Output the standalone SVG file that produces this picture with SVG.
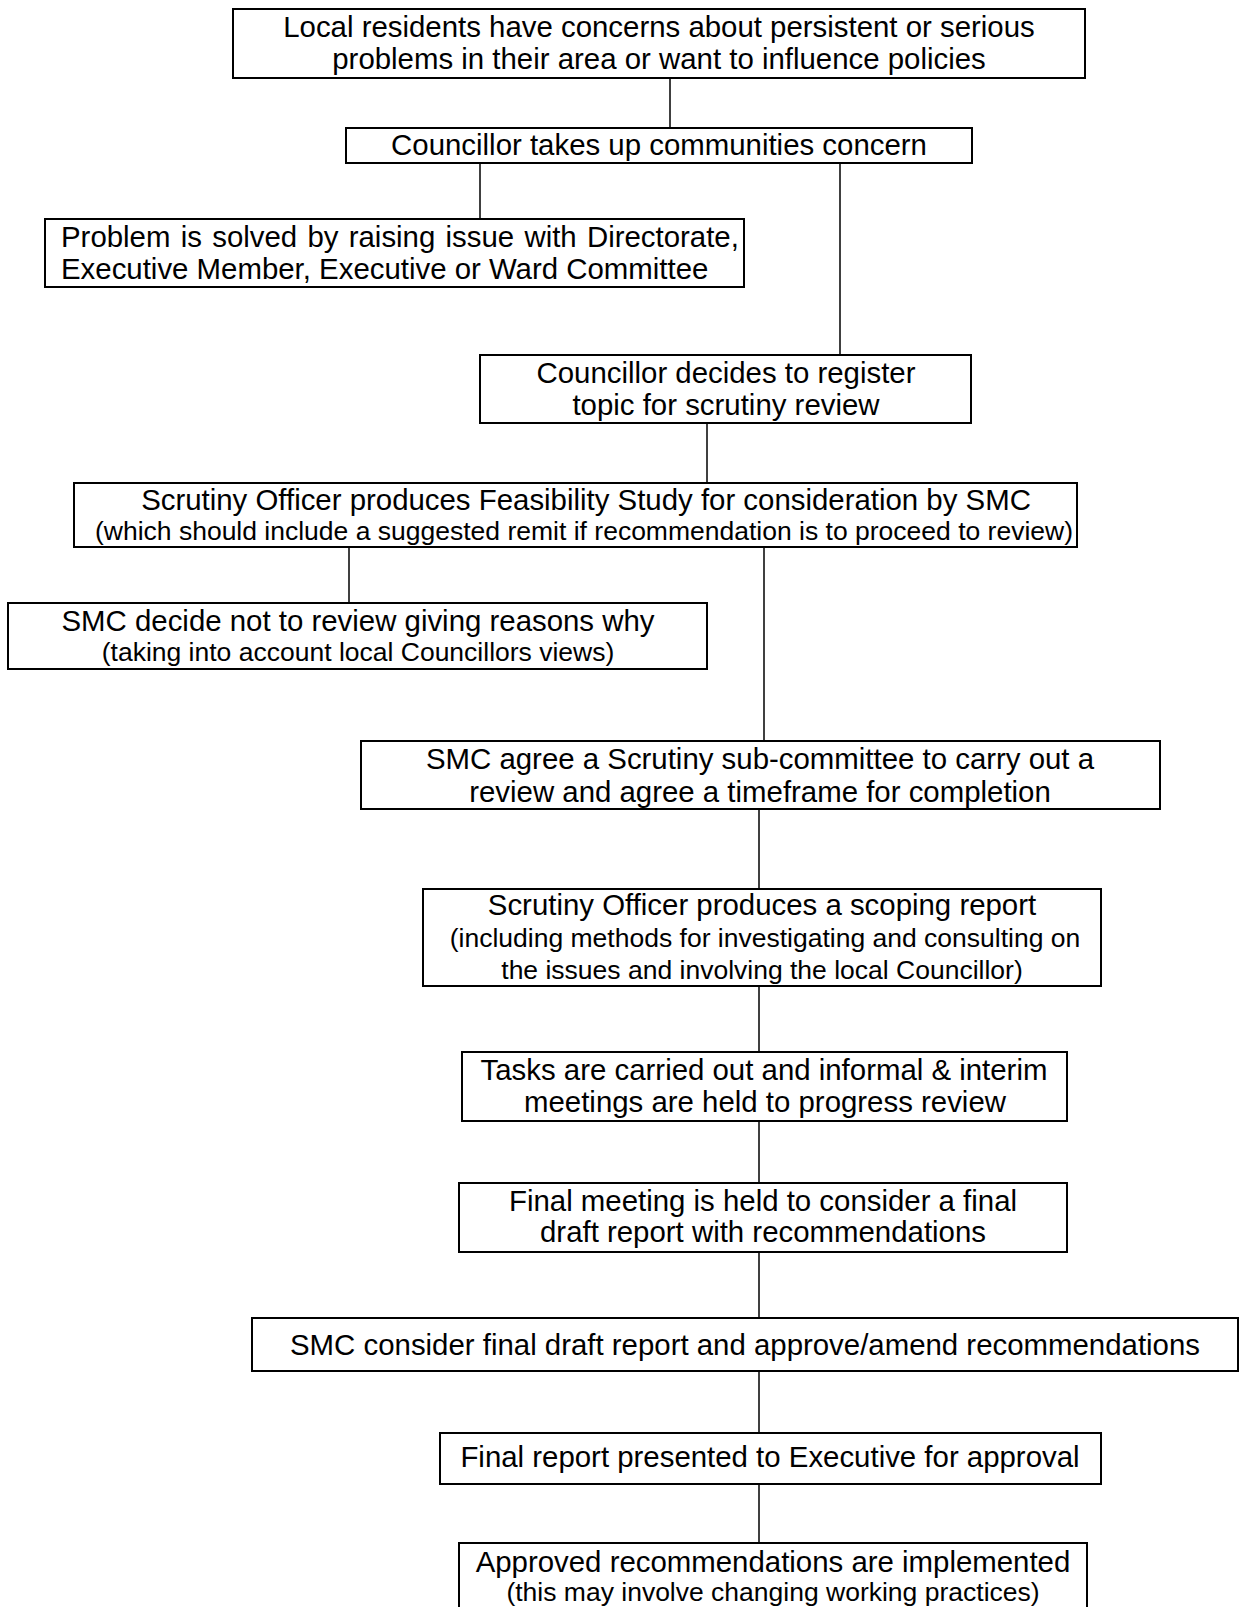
<svg xmlns="http://www.w3.org/2000/svg" width="1243" height="1607" viewBox="0 0 1243 1607">
<style>
.box{fill:#fff;stroke:#000;stroke-width:2}
.c{stroke:#000;stroke-width:1.5;fill:none}
text{font-family:"Liberation Sans",Arial,sans-serif;fill:#000}
.m{font-size:29.4px;text-anchor:middle}
.s{font-size:26.5px;text-anchor:middle}
.l{font-size:29.4px;text-anchor:start}
</style>
<rect width="1243" height="1607" fill="#fff"/>
<g id="connectors">
<line class="c" x1="670" y1="78" x2="670" y2="128"/>
<line class="c" x1="480" y1="163" x2="480" y2="219"/>
<line class="c" x1="840" y1="163" x2="840" y2="355"/>
<line class="c" x1="707" y1="423" x2="707" y2="483"/>
<line class="c" x1="349" y1="547" x2="349" y2="603"/>
<line class="c" x1="764" y1="547" x2="764" y2="741"/>
<line class="c" x1="759" y1="809" x2="759" y2="889"/>
<line class="c" x1="759" y1="986" x2="759" y2="1052"/>
<line class="c" x1="759" y1="1121" x2="759" y2="1183"/>
<line class="c" x1="759" y1="1252" x2="759" y2="1318"/>
<line class="c" x1="759" y1="1371" x2="759" y2="1433"/>
<line class="c" x1="759" y1="1484" x2="759" y2="1543"/>
</g>
<g id="n1">
<rect class="box" x="233" y="9" width="852" height="69"/>
<text class="m" x="659" y="37">Local residents have concerns about persistent or serious</text>
<text class="m" x="659" y="69">problems in their area or want to influence policies</text>
</g>
<g id="n2">
<rect class="box" x="346" y="128" width="626" height="35"/>
<text class="m" x="659" y="155">Councillor takes up communities concern</text>
</g>
<g id="n3">
<rect class="box" x="45" y="219" width="699" height="68"/>
<text class="l" x="61" y="247" word-spacing="2.1">Problem is solved by raising issue with Directorate,</text>
<text class="l" x="61" y="279">Executive Member, Executive or Ward Committee</text>
</g>
<g id="n4">
<rect class="box" x="480" y="355" width="491" height="68"/>
<text class="m" x="726" y="383">Councillor decides to register</text>
<text class="m" x="726" y="415">topic for scrutiny review</text>
</g>
<g id="n5">
<rect class="box" x="74" y="483" width="1003" height="64"/>
<text class="m" x="586" y="510">Scrutiny Officer produces Feasibility Study for consideration by SMC</text>
<text class="s" x="584" y="540">(which should include a suggested remit if recommendation is to proceed to review)</text>
</g>
<g id="n6">
<rect class="box" x="8" y="603" width="699" height="66"/>
<text class="m" x="358" y="631">SMC decide not to review giving reasons why</text>
<text class="s" x="358" y="661">(taking into account local Councillors views)</text>
</g>
<g id="n7">
<rect class="box" x="361" y="741" width="799" height="68"/>
<text class="m" x="760" y="769">SMC agree a Scrutiny sub-committee to carry out a</text>
<text class="m" x="760" y="802">review and agree a timeframe for completion</text>
</g>
<g id="n8">
<rect class="box" x="423" y="889" width="678" height="97"/>
<text class="m" x="762" y="915">Scrutiny Officer produces a scoping report</text>
<text class="s" x="765" y="947">(including methods for investigating and consulting on</text>
<text class="s" x="762" y="979">the issues and involving the local Councillor)</text>
</g>
<g id="n9">
<rect class="box" x="462" y="1052" width="605" height="69"/>
<text class="m" x="764" y="1080">Tasks are carried out and informal &amp; interim</text>
<text class="m" x="765" y="1112">meetings are held to progress review</text>
</g>
<g id="n10">
<rect class="box" x="459" y="1183" width="608" height="69"/>
<text class="m" x="763" y="1211">Final meeting is held to consider a final</text>
<text class="m" x="763" y="1242">draft report with recommendations</text>
</g>
<g id="n11">
<rect class="box" x="252" y="1318" width="986" height="53"/>
<text class="m" x="745" y="1355">SMC consider final draft report and approve/amend recommendations</text>
</g>
<g id="n12">
<rect class="box" x="440" y="1433" width="661" height="51"/>
<text class="m" x="770" y="1467">Final report presented to Executive for approval</text>
</g>
<g id="n13">
<rect class="box" x="459" y="1543" width="628" height="80"/>
<text class="m" x="773" y="1572">Approved recommendations are implemented</text>
<text class="s" x="773" y="1601">(this may involve changing working practices)</text>
</g>
</svg>
